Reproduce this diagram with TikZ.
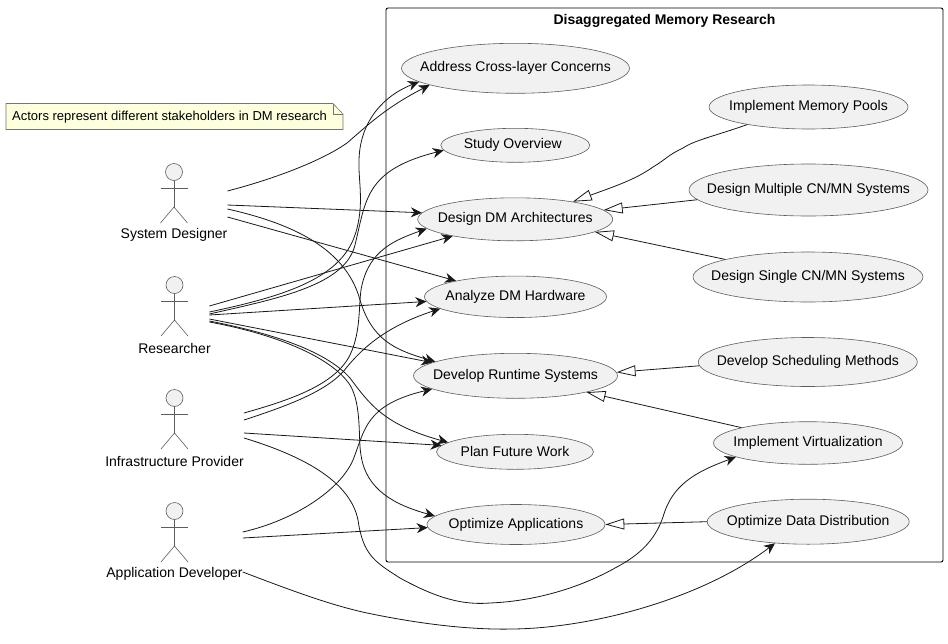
\documentclass[tikz,border=0pt]{standalone}
\usepackage{fontspec}
\setmainfont{Liberation Sans}
\usetikzlibrary{arrows.meta,shapes.geometric}
\definecolor{inkdark}{HTML}{181818}
\definecolor{usefill}{HTML}{F1F1F1}
\definecolor{notefill}{HTML}{FEFFDD}
\tikzset{
	usebox/.style={ellipse, draw=inkdark!70, line width=0.6pt, fill=usefill, inner sep=0pt, font=\fontsize{14}{16}\selectfont},
	actorline/.style={draw=inkdark!70, line width=0.6pt},
	actorlabel/.style={inner sep=0pt, font=\fontsize{14}{16}\selectfont},
	flow/.style={draw=inkdark, line width=0.8pt, -{Stealth[length=11pt,width=10pt,inset=3.5pt]}},
	extend/.style={draw=inkdark, line width=0.8pt, -{Triangle[open,length=19pt,width=11pt,fill=white]}},
}
\def\usecase(#1)(#2,#3)(#4,#5)#6{\node[usebox, minimum width=#4, minimum height=#5] (#1) at (#2,#3) {\makebox[0pt]{\raisebox{-1.2pt}{#6}}};}
\def\stickman(#1)(#2,#3)#4{
	\draw[actorline, fill=usefill] (#2,#3) circle (8.5);
	\draw[actorline] (#2,#3+8.5) -- (#2,#3+35);
	\draw[actorline] (#2-13.5,#3+16) -- (#2+13.5,#3+16);
	\draw[actorline] (#2-13.5,#3+51) -- (#2,#3+35) -- (#2+13.5,#3+51);
	\node[actorlabel] (#1) at (#2,#3+63) {#4};
}

\begin{document}
\begin{tikzpicture}[x=1pt,y=-1pt]
	%%%%% START %%%%%
	\useasboundingbox (0,0) rectangle (948,643);
	
	\draw[draw=black, line width=0.9pt, rounded corners=2pt] (386,8) rectangle (943,562);
	\node[font=\bfseries\fontsize{14}{16}\selectfont, inner sep=0pt] (frameTitle) at (664.5,20.5) {Disaggregated Memory Research};
	
	\draw[draw=inkdark!60, line width=0.6pt, fill=notefill] (6,103.5) -- (333,103.5) -- (343,114) -- (343,129.5) -- (6,129.5) -- cycle;
	\draw[draw=inkdark!60, line width=0.6pt] (333,103.5) -- (333,114) -- (343,114);
	\node[anchor=west, inner sep=0pt, font=\fontsize{13}{16}\selectfont] (noteActors) at (12,117.5) {Actors represent different stakeholders in DM research};
	
	\stickman(acDesigner)(174,172){System Designer}
	\stickman(acResearcher)(174.5,285){Researcher}
	\stickman(acProvider)(174.5,398){Infrastructure Provider}
	\stickman(acDeveloper)(174.5,511){Application Developer}
	
	\usecase(usAddress)(515.5,68.3)(228,50){Address Cross-layer Concerns}
	\usecase(usStudy)(515.3,145.3)(149,34){\kern-5pt Study Overview}
	\usecase(usDesign)(515.2,219.3)(195,43){Design DM Architectures}
	\usecase(usAnalyze)(515.5,296.8)(182,41.5){Analyze DM Hardware}
	\usecase(usRuntime)(515.5,375.8)(204,45){Develop Runtime Systems}
	\usecase(usPlan)(515,451.8)(157,35){Plan Future Work}
	\usecase(usOptimize)(516,524.5)(178,40){Optimize Applications}
	\usecase(usPools)(808.5,107)(199,44){Implement Memory Pools}
	\usecase(usMultiple)(808.5,190)(239,52){Design Multiple CN/MN Systems}
	\usecase(usSingle)(808,277)(230,50){Design Single CN/MN Systems}
	\usecase(usSched)(807.8,362)(219,49){Develop Scheduling Methods}
	\usecase(usVirtual)(808,443)(189,42.6){Implement Virtualization}
	\usecase(usData)(808.2,521.7)(202,45){Optimize Data Distribution}
	
	% system designer
	\draw[flow] ([yshift=44]acDesigner.east) .. controls (270,180) and (320,162) .. (347,143) .. controls (368,125) and (385,108) .. (usAddress.191.7);
	\draw[flow] ([yshift=30]acDesigner.east) -- (usDesign.176.8);
	\draw[flow] ([yshift=26]acDesigner.east) .. controls (285,222) and (345,245) .. (360,300) .. controls (372,340) and (395,350) .. (usRuntime.170);
	\draw[flow] ([yshift=18]acDesigner.east) -- (usAnalyze.165.2);
	
	% researcher
	\draw[flow] ([xshift=-1.5,yshift=42]acResearcher.east) -- (usDesign.195.5);
	\draw[flow] ([xshift=-1.5,yshift=36]acResearcher.east) .. controls (280,297) and (340,280) .. (355,235) .. controls (365,205) and (358,180) .. (359,160) .. controls (360,120) and (385,95) .. (usAddress.188.1);
	\draw[flow] ([xshift=-1.5,yshift=34]acResearcher.east) .. controls (280,298) and (345,285) .. (355,245) .. controls (366,200) and (365,170) .. (usStudy.184.4);
	\draw[flow] ([xshift=-1.5,yshift=33]acResearcher.east) -- (usAnalyze.183.2);
	\draw[flow] ([xshift=-1.5,yshift=29]acResearcher.east) -- (usRuntime.171);
	\draw[flow] ([xshift=-1.5,yshift=27]acResearcher.east) .. controls (270,333) and (325,350) .. (350,378) .. controls (370,405) and (385,425) .. (usPlan.172.2);
	\draw[flow] ([xshift=-1.5,yshift=26]acResearcher.east) .. controls (270,333) and (330,355) .. (350,385) .. controls (362,405) and (358,440) .. (361,455) .. controls (366,490) and (395,505) .. (usOptimize.174.4);
	
	% infrastructure provider
	\draw[flow] ([yshift=48]acProvider.east) .. controls (290,400) and (335,385) .. (350,355) .. controls (362,330) and (358,300) .. (362,285) .. controls (370,250) and (395,240) .. (usDesign.186.1);
	\draw[flow] ([yshift=41]acProvider.east) .. controls (290,405) and (330,390) .. (347,367) .. controls (365,345) and (390,325) .. (usAnalyze.189.8);
	\draw[flow] ([yshift=28]acProvider.east) -- (usPlan.175.4);
	\draw[flow] ([yshift=23]acProvider.east) .. controls (300,455) and (350,480) .. (358,520) .. controls (363,555) and (375,562) .. (400,578) .. controls (440,600) and (465,605) .. (490,603) .. controls (540,601) and (585,585) .. (615,568) .. controls (640,555) and (655,540) .. (663,517) .. controls (672,485) and (695,472) .. (usVirtual.191.3);
	
	% application developer
	\draw[flow] ([yshift=42]acDeveloper.east) .. controls (295,520) and (340,490) .. (353,460) .. controls (365,430) and (365,405) .. (usRuntime.189);
	\draw[flow] ([yshift=36]acDeveloper.east) -- (usOptimize.182.6);
	\draw[flow] ([yshift=2]acDeveloper.east) .. controls (290,590) and (330,605) .. (367,613) .. controls (420,624) and (470,630) .. (513,629) .. controls (590,628) and (700,600) .. (usData.213);
	
	% specialisations
	\draw[extend] (usPools.196) .. controls (715,136) and (695,140) .. (683,148) .. controls (668,155) and (665,160) .. (653,167) .. controls (635,180) and (610,188) .. (usDesign.17.8);
	\draw[extend] (usMultiple.185.7) -- (usDesign.6);
	\draw[extend] (usSingle.168.8) -- (usDesign.-9.9);
	\draw[extend] (usSched.182.8) -- (usRuntime.2.4);
	\draw[extend] (usVirtual.167) -- (usRuntime.-13);
	\draw[extend] (usData.180.8) -- (usOptimize.0.3);
	
	%%%%% END %%%%%
\end{tikzpicture}
\end{document}
